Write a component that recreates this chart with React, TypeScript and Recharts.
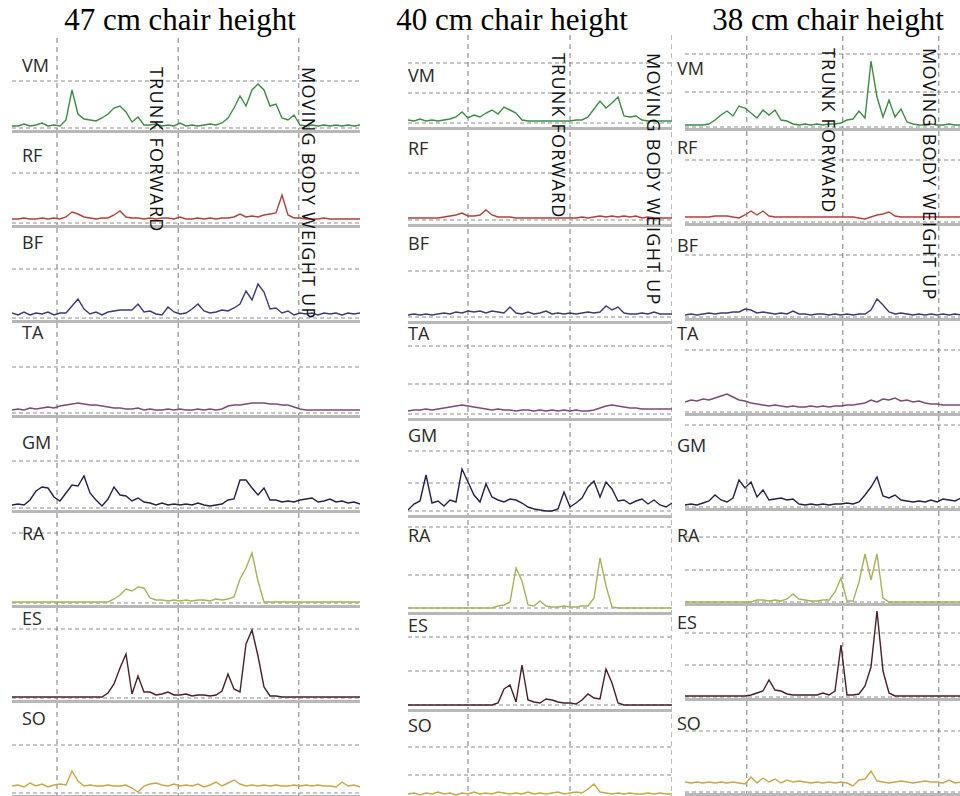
import { LineChart, Line, XAxis, YAxis, ReferenceLine } from "recharts";

const channels = ["VM", "RF", "BF", "TA", "GM", "RA", "ES", "SO"];
const channelColors = ["#3f8a45", "#b0413e", "#3b3b7a", "#7a4a78", "#23234a", "#a9b25a", "#4a2026", "#c9a64a"];
const titles = ["47 cm chair height", "40 cm chair height", "38 cm chair height"];
const phaseLabels = ["TRUNK FORWARD", "MOVING BODY WEIGHT UP"];

// 47 cm chair height (values = amplitude above baseline)
const vm47 = [2, 2, 4, 2, 3, 5, 2, 3, 2, 8, 38, 14, 9, 8, 7, 10, 14, 20, 22, 16, 6, 11, 3, 3, 4, 2, 3, 2, 5, 2, 3, 2, 3, 4, 3, 5, 10, 20, 32, 22, 38, 44, 38, 22, 24, 10, 8, 13, 3, 2, 3, 2, 3, 2, 3, 2, 3, 2, 3];
const rf47 = [4, 4, 5, 4, 4, 5, 4, 5, 4, 6, 11, 9, 6, 5, 4, 5, 5, 8, 12, 6, 5, 5, 4, 5, 4, 5, 5, 4, 6, 4, 4, 5, 4, 5, 4, 5, 5, 6, 9, 6, 7, 6, 8, 9, 10, 28, 8, 5, 5, 4, 4, 4, 5, 4, 4, 4, 4, 4, 4];
const bf47 = [5, 3, 6, 3, 5, 4, 6, 3, 5, 5, 12, 19, 9, 4, 6, 3, 6, 7, 8, 8, 8, 14, 6, 7, 4, 3, 11, 6, 4, 5, 9, 14, 7, 5, 6, 8, 7, 10, 14, 27, 18, 34, 26, 9, 10, 5, 7, 3, 5, 4, 5, 3, 5, 4, 5, 3, 5, 4, 5];
const ta47 = [3, 4, 3, 5, 4, 5, 6, 5, 7, 8, 9, 10, 9, 8, 8, 7, 6, 5, 5, 4, 4, 5, 3, 4, 3, 3, 4, 3, 4, 3, 3, 4, 3, 4, 3, 4, 7, 8, 8, 9, 10, 10, 10, 9, 9, 8, 8, 6, 4, 3, 3, 3, 3, 3, 3, 3, 3, 3, 3];
const gm47 = [3, 4, 3, 8, 17, 21, 20, 11, 7, 15, 23, 22, 32, 15, 8, 2, 9, 21, 13, 12, 7, 10, 6, 5, 3, 5, 3, 4, 3, 4, 3, 5, 3, 2, 3, 4, 8, 9, 28, 28, 20, 13, 20, 8, 8, 6, 7, 6, 8, 9, 10, 6, 7, 9, 6, 7, 5, 6, 4];
const ra47 = [1, 1, 1, 1, 1, 1, 1, 1, 1, 1, 1, 1, 1, 1, 1, 1, 1, 4, 8, 14, 12, 16, 15, 5, 3, 3, 2, 3, 2, 3, 2, 3, 3, 2, 4, 3, 4, 6, 24, 35, 50, 22, 1, 1, 1, 1, 1, 1, 1, 1, 1, 1, 1, 1, 1, 1, 1, 1, 1];
const es47 = [1, 1, 1, 1, 1, 1, 1, 1, 1, 1, 1, 1, 1, 1, 1, 1, 5, 14, 30, 44, 4, 22, 6, 6, 3, 4, 6, 3, 3, 4, 2, 3, 3, 2, 3, 7, 24, 9, 6, 54, 68, 42, 11, 2, 2, 1, 1, 1, 1, 1, 1, 1, 1, 1, 1, 1, 1, 1, 1];
const so47 = [7, 8, 6, 10, 7, 9, 6, 8, 9, 8, 22, 12, 7, 8, 7, 7, 8, 7, 7, 8, 5, 1, 7, 9, 10, 8, 7, 9, 7, 8, 7, 9, 6, 8, 11, 7, 10, 13, 9, 7, 8, 7, 8, 7, 8, 7, 7, 8, 7, 8, 7, 8, 7, 7, 6, 11, 7, 8, 6];
const markers47 = [7.5, 27.7, 47.8];
const grid47 = [[47], [50], [49], [46], [47], [70], [69], [48]];

// 40 cm chair height
const vm40 = [3, 2, 4, 2, 3, 2, 3, 4, 6, 11, 5, 8, 6, 10, 13, 9, 16, 13, 10, 3, 2, 2, 2, 2, 2, 2, 2, 2, 3, 3, 6, 14, 22, 15, 20, 26, 7, 6, 7, 3, 2, 2, 2, 2, 2];
const rf40 = [2, 2, 2, 2, 2, 2, 3, 4, 5, 7, 4, 4, 5, 10, 5, 3, 3, 3, 2, 2, 2, 2, 2, 2, 2, 2, 2, 2, 2, 3, 2, 3, 4, 3, 4, 3, 4, 3, 4, 2, 3, 2, 2, 2, 2];
const bf40 = [2, 3, 2, 3, 2, 3, 4, 3, 5, 4, 6, 5, 6, 4, 6, 5, 4, 10, 4, 3, 5, 3, 4, 6, 3, 4, 3, 4, 3, 4, 5, 4, 5, 11, 7, 10, 4, 3, 3, 4, 3, 5, 3, 3, 3];
const ta40 = [3, 4, 4, 5, 4, 5, 6, 7, 8, 9, 8, 7, 6, 5, 4, 5, 4, 4, 3, 4, 4, 3, 4, 3, 4, 3, 4, 3, 4, 3, 3, 4, 6, 8, 9, 8, 7, 6, 6, 5, 5, 5, 5, 5, 5];
const gm40 = [1, 7, 10, 36, 8, 10, 5, 11, 9, 42, 29, 16, 9, 27, 14, 11, 9, 12, 11, 8, 4, 2, 1, 0, 0, 2, 19, 4, 8, 13, 24, 30, 14, 29, 22, 10, 11, 7, 10, 12, 7, 11, 6, 4, 8];
const ra40 = [0, 0, 0, 0, 0, 0, 0, 0, 0, 0, 0, 0, 0, 0, 0, 2, 3, 6, 40, 27, 3, 2, 7, 2, 1, 1, 2, 1, 1, 2, 2, 10, 50, 22, 1, 0, 0, 0, 0, 0, 0, 0, 0, 0, 0];
const es40 = [0, 0, 0, 0, 0, 0, 0, 0, 0, 0, 0, 0, 0, 0, 0, 2, 16, 20, 3, 40, 5, 3, 2, 6, 5, 3, 2, 2, 1, 5, 11, 7, 6, 36, 22, 2, 0, 0, 0, 0, 0, 0, 0, 0, 0];
const so40 = [8, 9, 7, 9, 8, 10, 8, 9, 7, 9, 8, 10, 8, 9, 8, 10, 9, 8, 9, 8, 10, 8, 9, 8, 9, 10, 8, 9, 10, 9, 13, 18, 10, 9, 8, 9, 8, 9, 8, 8, 9, 8, 9, 8, 8];
const markers40 = [10, 27, 44];
const grid40 = [[30, 60], [47], [46], [30, 68], [28, 60], [33, 81], [34, 68], [27, 55]];

// 38 cm chair height
const vm38 = [2, 2, 2, 2, 3, 7, 12, 16, 11, 21, 19, 14, 9, 17, 12, 17, 7, 6, 3, 2, 3, 2, 3, 2, 3, 3, 4, 7, 8, 16, 9, 66, 30, 10, 27, 10, 18, 5, 3, 2, 2, 3, 2, 2, 3, 2, 2];
const rf38 = [5, 5, 5, 5, 5, 6, 6, 6, 5, 4, 7, 11, 7, 11, 6, 5, 5, 5, 5, 5, 5, 5, 5, 5, 5, 5, 5, 5, 5, 4, 3, 5, 7, 8, 10, 6, 5, 5, 5, 5, 5, 5, 5, 5, 5, 5, 5];
const bf38 = [2, 3, 2, 3, 4, 3, 4, 4, 5, 5, 8, 7, 4, 5, 4, 3, 4, 3, 6, 3, 3, 2, 3, 3, 2, 3, 2, 3, 2, 3, 3, 7, 18, 12, 5, 3, 4, 3, 2, 3, 2, 3, 2, 3, 2, 3, 2];
const ta38 = [10, 12, 11, 13, 12, 14, 16, 18, 15, 12, 11, 9, 8, 7, 6, 7, 6, 5, 6, 5, 5, 6, 5, 6, 5, 6, 6, 7, 7, 8, 9, 12, 10, 13, 12, 14, 11, 12, 10, 11, 9, 8, 8, 7, 7, 7, 7];
const gm38 = [2, 3, 2, 4, 6, 12, 7, 5, 9, 27, 19, 25, 10, 17, 7, 8, 9, 7, 8, 3, 2, 3, 2, 3, 2, 3, 3, 4, 3, 5, 12, 20, 30, 11, 9, 12, 7, 6, 5, 6, 5, 7, 5, 8, 7, 6, 9];
const ra38 = [0, 0, 0, 0, 0, 0, 0, 0, 0, 0, 0, 0, 2, 2, 1, 2, 1, 3, 8, 3, 2, 1, 1, 2, 2, 10, 24, 1, 1, 20, 48, 22, 48, 4, 0, 0, 0, 0, 0, 0, 0, 0, 0, 0, 0, 0, 0];
const es38 = [1, 1, 1, 1, 1, 1, 1, 1, 1, 1, 1, 2, 4, 6, 17, 7, 6, 3, 2, 2, 2, 2, 2, 4, 2, 6, 52, 2, 2, 3, 11, 30, 86, 26, 4, 1, 1, 1, 1, 1, 1, 1, 1, 1, 1, 1, 1];
const so38 = [10, 9, 10, 9, 10, 9, 10, 9, 10, 9, 8, 15, 9, 14, 10, 13, 9, 12, 10, 11, 10, 9, 10, 9, 10, 9, 10, 9, 6, 12, 13, 21, 11, 10, 9, 10, 11, 10, 9, 10, 11, 10, 10, 9, 12, 9, 10];
const markers38 = [10.3, 26.3, 42.3];
const grid38 = [[35, 73], [62], [62], [62], [82], [32, 65], [32, 64], [61]];

const panels = [
  {
    title: titles[0], series: [vm47, rf47, bf47, ta47, gm47, ra47, es47, so47], markers: markers47, grid: grid47,
    left: 12, width: 348, top: 38, rowH: 95, off: 5, titleX: 180, labelX: 22,
    labelDy: [27, 22, 14, 9, 24, 20, 10, 15], phaseX: [150, 302], phaseTop: 67,
  },
  {
    title: titles[1], series: [vm40, rf40, bf40, ta40, gm40, ra40, es40, so40], markers: markers40, grid: grid40,
    left: 408, width: 264, top: 33, rowH: 97, off: 7, titleX: 512, labelX: 408,
    labelDy: [42, 18, 16, 9, 14, 17, 10, 13], phaseX: [552, 647], phaseTop: 53,
  },
  {
    title: titles[2], series: [vm38, rf38, bf38, ta38, gm38, ra38, es38, so38], markers: markers38, grid: grid38,
    left: 685, width: 276, top: 36, rowH: 95, off: 4, titleX: 828, labelX: 677,
    labelDy: [32, 16, 19, 12, 29, 24, 16, 22], phaseX: [822, 923], phaseTop: 48,
  },
];

const Row = ({ values, color, width, height, off, markers, grid }) => {
  const data = values.map((v, i) => ({ i, v }));
  return (
    <LineChart width={width} height={height} data={data} margin={{ top: 0, right: 0, bottom: 0, left: 0 }}>
      <XAxis dataKey="i" type="number" domain={[0, values.length - 1]} hide />
      <YAxis type="number" domain={[-off, height - off]} hide allowDataOverflow />
      {grid.map((g) => (
        <ReferenceLine key={`g${g}`} y={g} stroke="#8c8c8c" strokeDasharray="4 3" />
      ))}
      <ReferenceLine y={0} stroke="#8c8c8c" strokeDasharray="4 3" />
      {markers.map((m) => (
        <ReferenceLine key={`m${m}`} x={m} stroke="#7a7a7a" strokeDasharray="5 4" />
      ))}
      <ReferenceLine y={-off + 1.5} stroke="#b8b8b8" strokeWidth={3} />
      <Line type="linear" dataKey="v" stroke={color} strokeWidth={1.4} dot={false} isAnimationActive={false} />
    </LineChart>
  );
};

const App = () => {
  return (
    <div style={{ position: "absolute", left: 0, top: 0, width: 960, height: 796, overflow: "hidden", background: "#fff" }}>
      {panels.map((p) => (
        <div key={p.title}>
          <div
            style={{
              position: "absolute", left: p.titleX - 160, top: 2, width: 320, textAlign: "center",
              fontFamily: "'Liberation Serif', serif", fontSize: 31, color: "#000", whiteSpace: "nowrap",
            }}
          >
            {p.title}
          </div>
          {p.series.map((values, r) => (
            <div key={channels[r]} style={{ position: "absolute", left: p.left, top: p.top + r * p.rowH }}>
              <Row
                values={values}
                color={channelColors[r]}
                width={p.width}
                height={p.rowH}
                off={p.off}
                markers={p.markers}
                grid={p.grid[r]}
              />
            </div>
          ))}
          {channels.map((c, r) => (
            <div
              key={`l${c}`}
              style={{
                position: "absolute", left: p.labelX, top: p.top + r * p.rowH + p.labelDy[r] - 12,
                fontFamily: "'Open Sans', sans-serif", fontSize: 18, lineHeight: "24px", color: "#2a2a2a",
              }}
            >
              {c}
            </div>
          ))}
          {phaseLabels.map((t, k) => (
            <div
              key={t}
              style={{
                position: "absolute", left: p.phaseX[k] - 3, top: p.phaseTop, writingMode: "vertical-rl",
                fontFamily: "'Open Sans', sans-serif", fontSize: 18, lineHeight: "20px", letterSpacing: 1.2,
                color: "#111", whiteSpace: "nowrap",
              }}
            >
              {t}
            </div>
          ))}
        </div>
      ))}
    </div>
  );
};

export default App;
